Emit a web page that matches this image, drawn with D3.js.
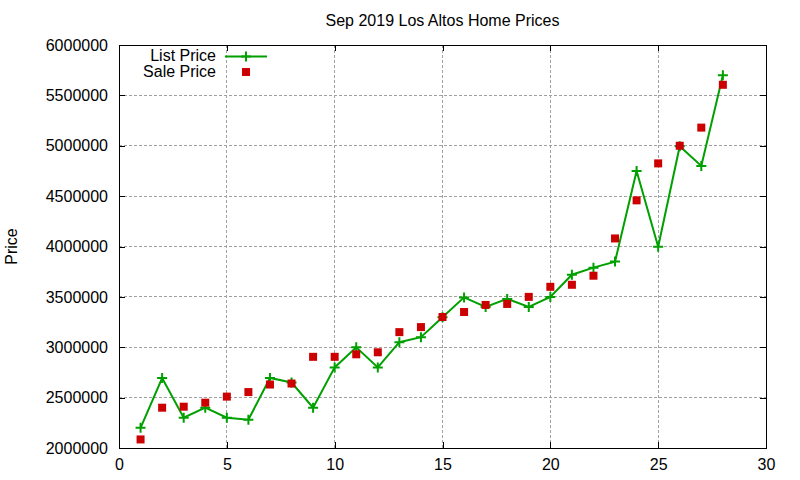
<!DOCTYPE html>
<html>
<head>
<meta charset="utf-8">
<script src="https://cdn.jsdelivr.net/npm/d3@7"></script>
<style>
  body { margin: 0; background: #fff; }
  svg { font-family: "Liberation Sans", Arial, sans-serif; font-size: 16px; }
  .grid line { stroke: #a0a0a0; stroke-dasharray: 3,2; shape-rendering: crispEdges; }
  .axis text { fill: #000; }
</style>
</head>
<body>
<svg id="chart" width="800" height="480"></svg>
<script>
// one sale per index, Sep 2019
var days = d3.range(1, 29);
var listPrice = [2200000, 2695000, 2300000, 2400000, 2300000, 2280000, 2695000, 2650000, 2400000, 2800000,
  3000000, 2800000, 3050000, 3100000, 3298000, 3495000, 3400000, 3480000, 3400000, 3500000,
  3720000, 3790000, 3850000, 4750000, 3998000, 4995000, 4800000, 5700000];
var salePrice = [2085000, 2400000, 2410000, 2450000, 2510000, 2555000, 2630000, 2640000, 2905000, 2905000,
  2930000, 2950000, 3150000, 3200000, 3300000, 3350000, 3420000, 3430000, 3500000, 3600000,
  3620000, 3710000, 4080000, 4458000, 4825000, 5000000, 5180000, 5605000];
var xTicks = [0, 5, 10, 15, 20, 25, 30];
var yTicks = d3.range(2000000, 6000001, 500000);

var margin = {top: 45, right: 34, bottom: 32, left: 119},
    width = 800 - margin.left - margin.right,
    height = 480 - margin.top - margin.bottom;

var GREEN = '#00a000', RED = '#cc0000';

var x = d3.scaleLinear().domain([0, 30]).range([0, width]);
var y = d3.scaleLinear().domain([2000000, 6000000]).range([height, 0]);

var svg = d3.select('#chart');

svg.append('text')
    .attr('x', margin.left + width / 2)
    .attr('y', 26)
    .attr('text-anchor', 'middle')
    .text('Sep 2019 Los Altos Home Prices');

svg.append('text')
    .attr('transform', 'translate(17,' + (margin.top + height / 2) + ') rotate(-90)')
    .attr('text-anchor', 'middle')
    .text('Price');

var g = svg.append('g')
    .attr('transform', 'translate(' + margin.left + ',' + margin.top + ')');

// grid
g.append('g').attr('class', 'grid')
  .selectAll('line').data(xTicks.slice(1, -1))
  .enter().append('line')
    .attr('x1', d => x(d)).attr('x2', d => x(d))
    .attr('y1', 0).attr('y2', height);

g.append('g').attr('class', 'grid')
  .selectAll('line').data(yTicks.slice(1, -1))
  .enter().append('line')
    .attr('y1', d => y(d)).attr('y2', d => y(d))
    .attr('x1', 0).attr('x2', width);

// axes, ticks inward and mirrored
var xAxis = d3.axisBottom(x).tickValues(xTicks).tickSizeInner(-6).tickSizeOuter(0).tickPadding(12);
var yAxis = d3.axisLeft(y).tickValues(yTicks).tickFormat(d3.format('d')).tickSizeInner(-6).tickSizeOuter(0).tickPadding(12);

g.append('g').attr('class', 'axis')
    .attr('transform', 'translate(0,' + height + ')')
    .call(xAxis)
    .call(a => a.select('.domain').remove())
    .selectAll('text').attr('font-size', 16).attr('font-family', null).attr('dy', '0.95em').attr('y', 7);

g.append('g').attr('class', 'axis')
    .call(yAxis)
    .call(a => a.select('.domain').remove())
    .selectAll('text').attr('font-size', 16).attr('font-family', null).attr('x', -11);

g.append('g')
    .call(d3.axisTop(x).tickValues(xTicks).tickSizeInner(-6).tickSizeOuter(0).tickFormat(''))
    .call(a => a.select('.domain').remove());

g.append('g')
    .attr('transform', 'translate(' + width + ',0)')
    .call(d3.axisRight(y).tickValues(yTicks).tickSizeInner(-6).tickSizeOuter(0).tickFormat(''))
    .call(a => a.select('.domain').remove());

g.selectAll('.tick line').attr('stroke', '#000').attr('shape-rendering', 'crispEdges');

g.append('rect')
    .attr('width', width).attr('height', height)
    .attr('fill', 'none').attr('stroke', '#000')
    .attr('shape-rendering', 'crispEdges');

// list price line + plus markers
var line = d3.line()
    .x((d, i) => x(days[i]))
    .y(d => y(d));

g.append('path')
    .datum(listPrice)
    .attr('d', line)
    .attr('fill', 'none')
    .attr('stroke', GREEN)
    .attr('stroke-width', 2);

var plus = 'M-5,0H5M0,-5V5';
g.selectAll('.plus')
    .data(listPrice)
  .enter().append('path')
    .attr('class', 'plus')
    .attr('transform', (d, i) => 'translate(' + x(days[i]) + ',' + y(d) + ')')
    .attr('d', plus)
    .attr('stroke', GREEN)
    .attr('stroke-width', 2);

// sale price squares
g.selectAll('.sq')
    .data(salePrice)
  .enter().append('rect')
    .attr('class', 'sq')
    .attr('x', (d, i) => x(days[i]) - 4)
    .attr('y', d => y(d) - 4)
    .attr('width', 8).attr('height', 8)
    .attr('fill', RED);

// legend
var legend = svg.append('g');
legend.append('text')
    .attr('x', 216).attr('y', 61)
    .attr('text-anchor', 'end')
    .text('List Price');
legend.append('line')
    .attr('x1', 225).attr('x2', 267).attr('y1', 56.5).attr('y2', 56.5)
    .attr('stroke', GREEN).attr('stroke-width', 2);
legend.append('path')
    .attr('transform', 'translate(246,56.5)')
    .attr('d', plus)
    .attr('stroke', GREEN).attr('stroke-width', 2);
legend.append('text')
    .attr('x', 216).attr('y', 77)
    .attr('text-anchor', 'end')
    .text('Sale Price');
legend.append('rect')
    .attr('x', 242).attr('y', 68)
    .attr('width', 8).attr('height', 8)
    .attr('fill', RED);
</script>
</body>
</html>
